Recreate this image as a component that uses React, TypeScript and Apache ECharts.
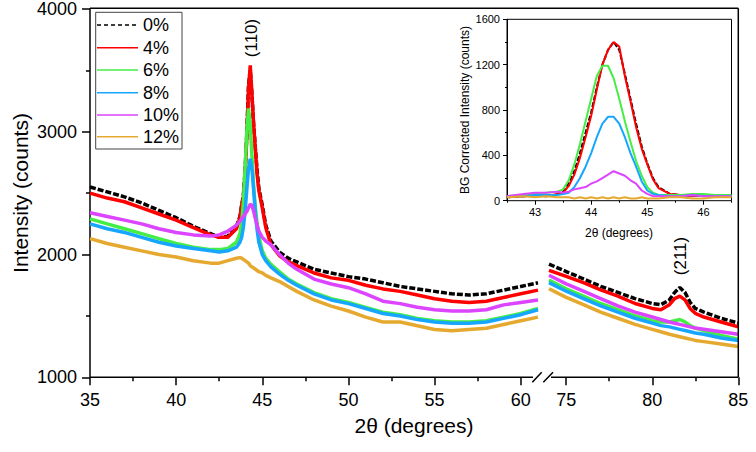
import React, { useEffect, useRef } from 'react';
import * as echarts from 'echarts';

const FONT = '"Liberation Sans", Arial, Helvetica, sans-serif';

const NAMES = ['0%', '4%', '6%', '8%', '10%', '12%'];
const COLORS = ['#000000', '#ff0000', '#44ee44', '#16a6ff', '#dd44ff', '#e6a92f'];

// Left segment (35-61)
const XL = [35, 36, 37, 38, 39, 40, 41, 42, 42.5, 43, 43.5, 43.7, 43.8, 43.9, 44.0, 44.1, 44.2, 44.3, 44.4, 44.5, 44.6, 44.7, 44.8, 45.0, 45.2, 45.5, 46, 46.5, 47, 48, 49, 50, 51, 52, 53, 54, 55, 56, 57, 58, 59, 60, 61];
const L0 = [2550, 2510, 2470, 2420, 2360, 2300, 2230, 2170, 2140, 2150, 2230, 2310, 2400, 2480, 2680, 2980, 3380, 3500, 3300, 3050, 2860, 2680, 2540, 2400, 2240, 2110, 2020, 1970, 1940, 1880, 1850, 1820, 1800, 1770, 1740, 1720, 1700, 1680, 1670, 1680, 1710, 1740, 1770];
const L4 = [2500, 2460, 2430, 2380, 2330, 2280, 2220, 2160, 2140, 2140, 2210, 2300, 2400, 2460, 2650, 2950, 3350, 3540, 3300, 3050, 2850, 2650, 2520, 2380, 2220, 2080, 1990, 1940, 1910, 1850, 1810, 1790, 1750, 1720, 1700, 1670, 1640, 1620, 1610, 1620, 1650, 1680, 1710];
const L6 = [2290, 2250, 2210, 2170, 2130, 2090, 2060, 2040, 2040, 2050, 2100, 2170, 2260, 2420, 2700, 3000, 3190, 3050, 2800, 2550, 2380, 2250, 2150, 2030, 1970, 1920, 1860, 1800, 1760, 1690, 1640, 1610, 1570, 1530, 1510, 1480, 1460, 1450, 1450, 1460, 1490, 1520, 1560];
const L8 = [2250, 2210, 2180, 2140, 2100, 2070, 2050, 2030, 2020, 2030, 2060, 2100, 2140, 2220, 2350, 2530, 2700, 2780, 2700, 2520, 2330, 2200, 2100, 2000, 1950, 1900, 1840, 1790, 1750, 1680, 1630, 1600, 1560, 1520, 1500, 1470, 1450, 1440, 1440, 1450, 1480, 1510, 1550];
const L10 = [2340, 2310, 2280, 2250, 2210, 2180, 2160, 2150, 2160, 2190, 2240, 2270, 2290, 2310, 2330, 2350, 2380, 2410, 2400, 2350, 2290, 2240, 2190, 2140, 2110, 2080, 2000, 1930, 1880, 1800, 1760, 1730, 1680, 1620, 1600, 1570, 1550, 1540, 1540, 1550, 1590, 1610, 1630];
const L12 = [2130, 2090, 2060, 2030, 2000, 1980, 1950, 1930, 1930, 1950, 1970, 1975, 1970, 1960, 1950, 1940, 1930, 1910, 1900, 1890, 1880, 1870, 1860, 1850, 1830, 1810, 1780, 1740, 1700, 1630, 1580, 1540, 1490, 1450, 1450, 1420, 1390, 1380, 1390, 1400, 1430, 1460, 1490];

// Right segment (74-85)
const XR = [74, 75, 76, 77, 78, 79, 80, 80.5, 81, 81.3, 81.6, 81.9, 82.2, 82.5, 83, 84, 85];
const R0 = [1920, 1860, 1800, 1740, 1690, 1640, 1600, 1590, 1630, 1690, 1730, 1690, 1610, 1560, 1530, 1480, 1440];
const R4 = [1870, 1820, 1770, 1710, 1660, 1600, 1560, 1550, 1590, 1640, 1660, 1630, 1560, 1520, 1490, 1450, 1410];
const R6 = [1790, 1720, 1660, 1600, 1550, 1500, 1460, 1450, 1450, 1460, 1470, 1450, 1420, 1400, 1380, 1340, 1310];
const R8 = [1770, 1700, 1640, 1580, 1530, 1480, 1440, 1420, 1410, 1400, 1390, 1380, 1370, 1360, 1350, 1320, 1300];
const R10 = [1830, 1760, 1700, 1640, 1580, 1530, 1490, 1470, 1450, 1440, 1430, 1420, 1410, 1400, 1390, 1370, 1350];
const R12 = [1720, 1650, 1590, 1530, 1480, 1430, 1390, 1370, 1350, 1340, 1330, 1320, 1310, 1300, 1290, 1270, 1250];

// Inset: BG corrected (42.5-46.5)
const XI = [42.5, 42.8, 43.0, 43.2, 43.4, 43.5, 43.6, 43.7, 43.8, 43.9, 44.0, 44.1, 44.2, 44.3, 44.4, 44.5, 44.6, 44.7, 44.8, 44.9, 45.0, 45.1, 45.2, 45.4, 45.6, 45.8, 46.0, 46.2, 46.5];
const I0 = [30, 40, 50, 40, 60, 80, 150, 260, 420, 600, 780, 1000, 1200, 1330, 1400, 1330, 1120, 900, 680, 480, 330, 200, 120, 60, 50, 40, 50, 40, 40];
const I4 = [30, 40, 50, 40, 60, 70, 130, 230, 380, 560, 750, 980, 1200, 1330, 1400, 1360, 1100, 880, 650, 460, 320, 190, 110, 60, 50, 40, 50, 40, 40];
const I6 = [40, 50, 60, 70, 80, 100, 180, 320, 500, 700, 900, 1100, 1190, 1190, 1080, 900, 700, 520, 350, 220, 120, 70, 50, 50, 50, 60, 60, 50, 50];
const I8 = [40, 40, 50, 50, 50, 60, 70, 120, 200, 300, 420, 560, 680, 740, 740, 680, 560, 420, 300, 170, 90, 60, 50, 40, 40, 50, 40, 40, 40];
const I10 = [40, 60, 70, 70, 80, 70, 80, 100, 110, 120, 150, 170, 200, 230, 260, 240, 220, 180, 150, 90, 60, 40, 40, 40, 40, 50, 40, 40, 40];
const I12 = [30, 40, 30, 40, 30, 30, 30, 20, 30, 20, 30, 20, 30, 20, 30, 20, 30, 20, 20, 30, 20, 20, 20, 30, 30, 20, 20, 30, 30];

const LEFT = [L0, L4, L6, L8, L10, L12];
const RIGHT = [R0, R4, R6, R8, R10, R12];
const INSET = [I0, I4, I6, I8, I10, I12];

const MAIN_Y_TICKS = { min: 1000, max: 4000, interval: 1000 };
const LEFT_MAJOR = [35, 40, 45, 50, 55, 60];
const LEFT_MINOR = [37.5, 42.5, 47.5, 52.5, 57.5];
const RIGHT_MAJOR = [75, 80, 85];
const RIGHT_MINOR = [77.5, 82.5];
const INSET_MAJOR = [43, 44, 45, 46];
const INSET_MINOR = [42.5, 43.5, 44.5, 45.5, 46.5];

const pairs = (xs: number[], ys: number[]) => xs.map((x, i) => [x, ys[i]]);
const plain = (v: number) => String(v);

function xAxisDef(gridIndex: number, min: number, max: number, ticks: number[], len: number, labels: boolean, fontSize: number, margin: number, lineW: number) {
  return {
    type: 'value',
    gridIndex,
    min,
    max,
    position: 'bottom',
    axisLine: { show: false },
    splitLine: { show: false },
    axisTick: { show: true, customValues: ticks, length: len, lineStyle: { color: '#000', width: lineW } },
    axisLabel: labels
      ? { show: true, customValues: ticks, fontSize, color: '#000', fontFamily: FONT, margin, formatter: plain }
      : { show: false },
  };
}

export default function App() {
  const ref = useRef<HTMLDivElement>(null);
  useEffect(() => {
    const chart = echarts.init(ref.current!, null, { renderer: 'svg' });

    const series: any[] = [];
    NAMES.forEach((name, k) => {
      const lineType = k === 0 ? [6, 2] : 'solid';
      series.push({
        name, type: 'line', xAxisIndex: 0, yAxisIndex: 0, data: pairs(XL, LEFT[k]),
        showSymbol: false, lineStyle: { color: COLORS[k], width: 3.5, type: lineType }, z: 2 + k,
      });
      series.push({
        name, type: 'line', xAxisIndex: 2, yAxisIndex: 1, data: pairs(XR, RIGHT[k]),
        showSymbol: false, lineStyle: { color: COLORS[k], width: 3.5, type: lineType }, z: 2 + k,
      });
      series.push({
        name, type: 'line', xAxisIndex: 4, yAxisIndex: 2, data: pairs(XI, INSET[k]),
        showSymbol: false, lineStyle: { color: COLORS[k], width: 2, type: k === 0 ? [5, 2] : 'solid' }, z: 2 + k,
      });
    });

    const legendRows = [25, 47.7, 70, 92.7, 115, 136.7];
    const legendGraphics: any[] = [
      { type: 'rect', shape: { x: 95.7, y: 12.3, width: 86.3, height: 136.7 }, style: { fill: '#fff', stroke: '#444', lineWidth: 1 }, z: 50 },
    ];
    NAMES.forEach((name, k) => {
      legendGraphics.push({
        type: 'line', shape: { x1: 97, y1: legendRows[k], x2: 138, y2: legendRows[k] },
        style: { stroke: COLORS[k], lineWidth: 1.5, lineDash: k === 0 ? [4, 3] : null }, z: 51,
      });
      legendGraphics.push({
        type: 'text', x: 143, y: legendRows[k],
        style: { text: name, fontSize: 18, fontFamily: FONT, fill: '#000', textAlign: 'left', textVerticalAlign: 'middle' }, z: 51,
      });
    });

    const option: any = {
      animation: false,
      backgroundColor: '#fff',
      grid: [
        { left: 90, top: 8.3, width: 448, height: 369 },
        { left: 549, top: 8.3, width: 189.3, height: 369 },
        { left: 507, top: 19.3, width: 224.5, height: 181.4, show: true, borderColor: '#000', borderWidth: 1, backgroundColor: 'transparent' },
      ],
      xAxis: [
        xAxisDef(0, 35, 61, LEFT_MAJOR, 8, true, 18, 14, 1.5),
        xAxisDef(0, 35, 61, LEFT_MINOR, 4, false, 18, 14, 1.5),
        xAxisDef(1, 74, 85, RIGHT_MAJOR, 8, true, 18, 14, 1.5),
        xAxisDef(1, 74, 85, RIGHT_MINOR, 4, false, 18, 14, 1.5),
        xAxisDef(2, 42.5, 46.5, INSET_MAJOR, 4, true, 11, 6, 1),
        xAxisDef(2, 42.5, 46.5, INSET_MINOR, 2, false, 11, 6, 1),
      ],
      yAxis: [
        {
          type: 'value', gridIndex: 0, ...MAIN_Y_TICKS,
          axisLine: { show: true, lineStyle: { color: '#000', width: 1.5 } },
          axisTick: { show: true, length: 8, lineStyle: { color: '#000', width: 1.5 } },
          minorTick: { show: true, splitNumber: 2, length: 4, lineStyle: { color: '#000', width: 1.5 } },
          splitLine: { show: false },
          axisLabel: { fontSize: 18, color: '#000', fontFamily: FONT, margin: 13, formatter: plain },
        },
        { type: 'value', gridIndex: 1, ...MAIN_Y_TICKS, show: false, splitLine: { show: false } },
        {
          type: 'value', gridIndex: 2, min: 0, max: 1600, interval: 400,
          axisLine: { show: true, lineStyle: { color: '#000', width: 1 } },
          axisTick: { show: true, length: 4, lineStyle: { color: '#000', width: 1 } },
          minorTick: { show: true, splitNumber: 2, length: 2, lineStyle: { color: '#000', width: 1 } },
          splitLine: { show: false },
          axisLabel: { fontSize: 11, color: '#000', fontFamily: FONT, margin: 7, formatter: plain },
        },
      ],
      series,
      graphic: [
        // main frame pieces and axis break
        { type: 'line', shape: { x1: 90, y1: 8.3, x2: 738.3, y2: 8.3 }, style: { stroke: '#000', lineWidth: 1.5 }, z: 40 },
        { type: 'line', shape: { x1: 738.3, y1: 8.3, x2: 738.3, y2: 377.3 }, style: { stroke: '#000', lineWidth: 1.5 }, z: 40 },
        { type: 'line', shape: { x1: 90, y1: 377.3, x2: 533, y2: 377.3 }, style: { stroke: '#000', lineWidth: 1.5 }, z: 40 },
        { type: 'line', shape: { x1: 551, y1: 377.3, x2: 738.3, y2: 377.3 }, style: { stroke: '#000', lineWidth: 1.5 }, z: 40 },
        { type: 'line', shape: { x1: 532.3, y1: 382.3, x2: 541.7, y2: 372.3 }, style: { stroke: '#000', lineWidth: 1.5 }, z: 40 },
        { type: 'line', shape: { x1: 543.3, y1: 382.3, x2: 553, y2: 372.3 }, style: { stroke: '#000', lineWidth: 1.5 }, z: 40 },
        // axis titles
        { type: 'text', x: 20, y: 193, rotation: Math.PI / 2, style: { text: 'Intensity (counts)', fontSize: 21, fontFamily: FONT, fill: '#000', textAlign: 'center', textVerticalAlign: 'middle' } },
        { type: 'text', x: 414, y: 425, style: { text: '2θ (degrees)', fontSize: 21, fontFamily: FONT, fill: '#000', textAlign: 'center', textVerticalAlign: 'middle' } },
        { type: 'text', x: 465, y: 110, rotation: Math.PI / 2, style: { text: 'BG Corrected Intensity (counts)', fontSize: 12, fontFamily: FONT, fill: '#000', textAlign: 'center', textVerticalAlign: 'middle' } },
        { type: 'text', x: 619, y: 233, style: { text: '2θ (degrees)', fontSize: 12, fontFamily: FONT, fill: '#000', textAlign: 'center', textVerticalAlign: 'middle' } },
        // peak labels
        { type: 'text', x: 251, y: 38, rotation: Math.PI / 2, style: { text: '(110)', fontSize: 17, fontFamily: FONT, fill: '#000', textAlign: 'center', textVerticalAlign: 'middle' } },
        { type: 'text', x: 680, y: 256, rotation: Math.PI / 2, style: { text: '(211)', fontSize: 17, fontFamily: FONT, fill: '#000', textAlign: 'center', textVerticalAlign: 'middle' } },
        ...legendGraphics,
      ],
    };

    chart.setOption(option);
    return () => chart.dispose();
  }, []);

  return <div ref={ref} style={{ position: 'fixed', left: 0, top: 0, width: 756, height: 452, background: '#fff' }} />;
}
